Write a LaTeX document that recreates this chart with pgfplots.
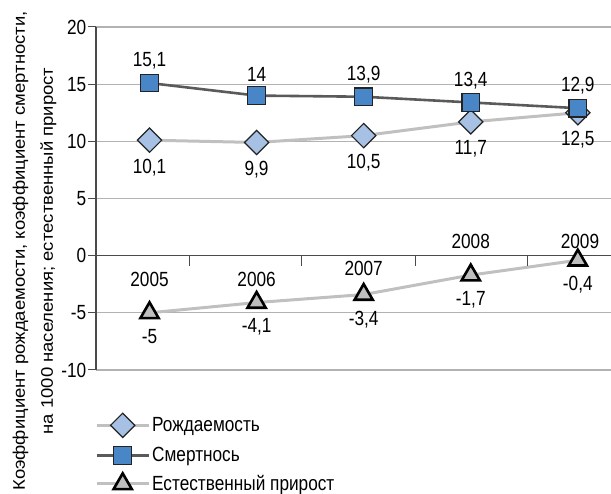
\documentclass[border=0pt]{standalone}
\usepackage{fontspec}
\setmainfont[FakeStretch=0.84]{Liberation Sans}
\newfontfamily\ylabfont[FakeStretch=1.1]{Liberation Sans}
\usepackage{pgfplots}
\pgfplotsset{compat=1.18}
\definecolor{gridc}{RGB}{178,178,178}
\definecolor{zeroc}{RGB}{75,75,75}
\definecolor{darkline}{RGB}{90,90,90}
\definecolor{lightline}{RGB}{192,192,192}
\definecolor{sqfill}{RGB}{72,134,200}
\definecolor{diafill}{RGB}{166,193,228}
\definecolor{trifill}{RGB}{190,190,190}
\definecolor{mborder}{RGB}{35,35,35}
\newcommand{\bigf}{\fontsize{20.5}{24}\selectfont}
\begin{document}
\begin{tikzpicture}[x=1pt,y=1pt]
\useasboundingbox (-96,-124) rectangle (515,370);
\begin{axis}[
  at={(0,0)}, anchor=south west,
  scale only axis, width=515pt, height=343pt,
  xmin=-0.5, xmax=4.31, ymin=-10, ymax=20,
  axis x line=none, axis y line*=left,
  axis line style={zeroc, line width=1.3pt, -},
  ytick={-10,-5,...,20},
  ymajorgrids, grid style={gridc, line width=1.1pt},
  extra y ticks={0}, extra y tick labels={},
  extra y tick style={grid style={zeroc, line width=1.5pt}, tick style={draw=none}},
  ytick align=outside, major tick length=8pt,
  tick style={zeroc, line width=1pt},
  yticklabel style={font=\bigf, inner sep=1.5pt},
  /pgf/number format/assume math mode=true,
  /pgf/number format/use comma,
  clip=false,
  nodes near coords,
  every node near coord/.append style={font=\bigf, inner sep=0pt, text=black},
  legend style={at={(axis cs:-0.5,-10)}, anchor=north west, xshift=-1pt, yshift=-43pt,
    draw=none, fill=none, inner sep=0pt, font=\bigf, row sep=8pt,
    /tikz/every even column/.append style={column sep=2pt}},
  legend cell align=left,
  legend image code/.code={\draw[mark repeat=2,mark phase=2,#1] plot coordinates {(0pt,0pt)(26pt,0pt)(52pt,0pt)};},
]
% Рождаемость
\addplot[lightline, line width=3pt, mark=square*, mark size=8.6pt,
  mark options={fill=diafill, draw=mborder, line width=1.2pt, rotate=45, solid},
  every node near coord/.append style={anchor=north, yshift=-18pt}]
  coordinates {(0,10.1)(1,9.9)(2,10.5)(3,11.7)(4,12.5)};
\addlegendentry{Рождаемость}
% Смертность
\addplot[darkline, line width=2.6pt, mark=square*, mark size=8.8pt,
  mark options={fill=sqfill, draw=mborder, line width=1.2pt, solid},
  every node near coord/.append style={anchor=south, yshift=13pt}]
  coordinates {(0,15.1)(1,14)(2,13.9)(3,13.4)(4,12.9)};
\addlegendentry{Смертнось}
% Естественный прирост
\addplot[lightline, line width=3pt, mark=triangle*, mark size=10.5pt,
  mark options={fill=trifill, draw=black, line width=2.6pt, solid, line join=miter},
  every node near coord/.append style={anchor=north, yshift=-15pt}]
  coordinates {(0,-5)(1,-4.1)(2,-3.4)(3,-1.7)(4,-0.4)};
\addlegendentry{Естественный прирост}
% category ticks on zero line
\pgfplotsinvokeforeach{0.374,1.42,2.486,3.533}{
  \draw[zeroc, line width=1.1pt] (axis cs:#1,0) -- ([yshift=-10pt]axis cs:#1,0);
}
% year labels
\node[font=\bigf] at (axis cs:0,-2.1) {2005};
\node[font=\bigf] at (axis cs:1,-2.1) {2006};
\node[font=\bigf] at (axis cs:2,-1.14) {2007};
\node[font=\bigf] at (axis cs:3,1.22) {2008};
\node[font=\bigf] at (axis cs:4.02,1.22) {2009};
\end{axis}
\node[rotate=90, anchor=base, inner sep=0pt, font=\ylabfont\fontsize{16.8}{20}\selectfont] at (-71,119) {Коэффициент рождаемости, коэффициент смертности,};
\node[rotate=90, anchor=base, inner sep=0pt, font=\ylabfont\fontsize{16.8}{20}\selectfont] at (-43,119) {на 1000 населения; естественный прирост};
\end{tikzpicture}
\end{document}
